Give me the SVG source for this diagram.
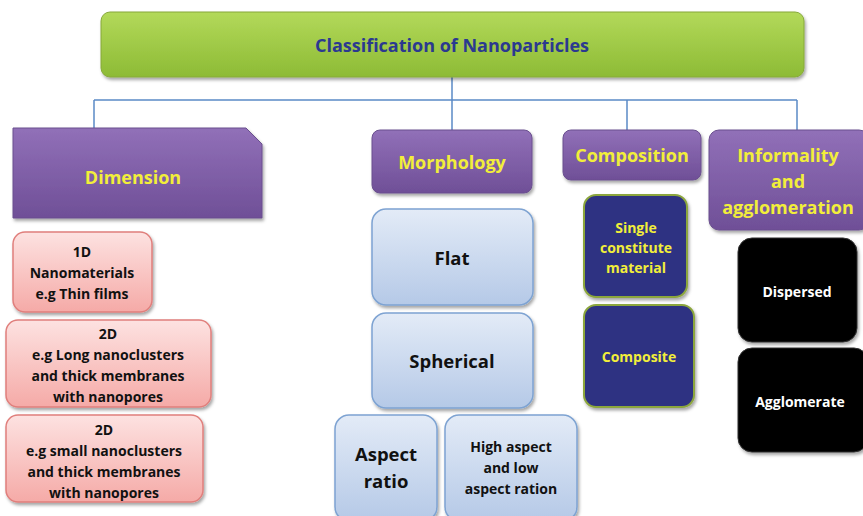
<svg xmlns="http://www.w3.org/2000/svg" width="863" height="516" viewBox="0 0 863 516">
  <style>
    text { font-family: "Open Sans", Lato, "Liberation Sans", sans-serif; font-weight: bold; text-anchor: middle; dominant-baseline: central; }
    .title { font-size: 18px; fill: #2b3990; }
    .head { font-size: 18px; fill: #f2ee3a; }
    .small { font-size: 14px; fill: #111; }
    .mid { font-size: 18.5px; fill: #111; }
    .navyt { font-size: 14px; fill: #f2ee3a; }
    .blackt { font-size: 14px; fill: #fff; }
    .conn { stroke: #5b8ac6; stroke-width: 1.5; fill: none; }
    .purple { fill: url(#gPurple); stroke: #6a4f8e; stroke-width: 1; filter: url(#shadow); }
    .pink { fill: url(#gPink); stroke: #e07f7c; stroke-width: 1.5; filter: url(#shadow); }
    .blue { fill: url(#gBlue); stroke: #7ea3d2; stroke-width: 1.5; filter: url(#shadow); }
    .navy { fill: #2e3382; stroke: #8ca63e; stroke-width: 2; filter: url(#shadow); }
    .black { fill: #000; stroke: #333; stroke-width: 1; filter: url(#shadow); }
  </style>
  <defs>
    <linearGradient id="gGreen" x1="0" y1="0" x2="0" y2="1">
      <stop offset="0" stop-color="#b3d95a"/>
      <stop offset="1" stop-color="#8dbb35"/>
    </linearGradient>
    <linearGradient id="gPurple" x1="0" y1="0" x2="0" y2="1">
      <stop offset="0" stop-color="#9170b8"/>
      <stop offset="1" stop-color="#6f4f97"/>
    </linearGradient>
    <linearGradient id="gPink" x1="0" y1="0" x2="0" y2="1">
      <stop offset="0" stop-color="#fde2e1"/>
      <stop offset="1" stop-color="#f5aaa7"/>
    </linearGradient>
    <linearGradient id="gBlue" x1="0" y1="0" x2="0" y2="1">
      <stop offset="0" stop-color="#e3ebf7"/>
      <stop offset="1" stop-color="#b5c9e7"/>
    </linearGradient>
    <filter id="shadow" x="-10%" y="-10%" width="125%" height="130%">
      <feDropShadow dx="1.5" dy="2.5" stdDeviation="1.8" flood-color="#000" flood-opacity="0.35"/>
    </filter>
  </defs>

  <!-- tree connectors -->
  <g id="connectors">
    <path class="conn" d="M452,77 V100 M94,100 H797 M94,100 V128 M452,100 V130 M627,100 V130 M797,100 V130"/>
  </g>

  <!-- root -->
  <g id="root">
    <rect x="101" y="12" width="703" height="65" rx="9" fill="url(#gGreen)" stroke="#86a83a" stroke-width="1" filter="url(#shadow)"/>
    <text class="title" x="452" y="45">Classification of Nanoparticles</text>
  </g>

  <!-- categories -->
  <g id="dimension">
    <path class="purple" d="M13,128 H246 L262,144 V218 H13 Z"/>
    <text class="head" x="133" y="177">Dimension</text>
  </g>
  <g id="morphology">
    <rect class="purple" x="372" y="130" width="160" height="63" rx="8"/>
    <text class="head" x="452" y="162">Morphology</text>
  </g>
  <g id="composition">
    <rect class="purple" x="563" y="130" width="138" height="50" rx="8"/>
    <text class="head" x="632" y="155">Composition</text>
  </g>
  <g id="informality">
    <rect class="purple" x="709" y="130" width="160" height="100" rx="10"/>
    <text class="head" x="788" y="155">Informality</text>
    <text class="head" x="788" y="181">and</text>
    <text class="head" x="788" y="207">agglomeration</text>
  </g>

  <!-- dimension leaves -->
  <g id="dim-1d">
    <rect class="pink" x="13" y="232" width="139" height="80" rx="12"/>
    <text class="small" x="82" y="251">1D</text>
    <text class="small" x="82" y="272">Nanomaterials</text>
    <text class="small" x="82" y="293">e.g Thin films</text>
  </g>
  <g id="dim-2d-long">
    <rect class="pink" x="6" y="320" width="205" height="87" rx="12"/>
    <text class="small" x="108" y="333">2D</text>
    <text class="small" x="108" y="354">e.g Long nanoclusters</text>
    <text class="small" x="108" y="375">and thick membranes</text>
    <text class="small" x="108" y="396">with nanopores</text>
  </g>
  <g id="dim-2d-small">
    <rect class="pink" x="6" y="415" width="197" height="87" rx="12"/>
    <text class="small" x="104" y="429">2D</text>
    <text class="small" x="104" y="450">e.g small nanoclusters</text>
    <text class="small" x="104" y="471">and thick membranes</text>
    <text class="small" x="104" y="492">with nanopores</text>
  </g>

  <!-- morphology leaves -->
  <g id="morph-flat">
    <rect class="blue" x="372" y="209" width="161" height="96" rx="14"/>
    <text class="mid" x="452" y="257">Flat</text>
  </g>
  <g id="morph-spherical">
    <rect class="blue" x="372" y="313" width="161" height="95" rx="14"/>
    <text class="mid" x="452" y="360">Spherical</text>
  </g>
  <g id="morph-aspect">
    <rect class="blue" x="335" y="415" width="102" height="106" rx="14"/>
    <text class="mid" x="386" y="453">Aspect</text>
    <text class="mid" x="386" y="480">ratio</text>
  </g>
  <g id="morph-high-low">
    <rect class="blue" x="445" y="415" width="132" height="106" rx="14"/>
    <text class="small" x="511" y="446">High aspect</text>
    <text class="small" x="511" y="467">and low</text>
    <text class="small" x="511" y="488">aspect ration</text>
  </g>

  <!-- composition leaves -->
  <g id="comp-single">
    <rect class="navy" x="584" y="195" width="103" height="102" rx="12"/>
    <text class="navyt" x="636" y="227">Single</text>
    <text class="navyt" x="636" y="247">constitute</text>
    <text class="navyt" x="636" y="267">material</text>
  </g>
  <g id="comp-composite">
    <rect class="navy" x="584" y="305" width="110" height="102" rx="12"/>
    <text class="navyt" x="639" y="356">Composite</text>
  </g>

  <!-- agglomeration leaves -->
  <g id="agg-dispersed">
    <rect class="black" x="738" y="238" width="119" height="104" rx="14"/>
    <text class="blackt" x="797" y="291">Dispersed</text>
  </g>
  <g id="agg-agglomerate">
    <rect class="black" x="738" y="348" width="130" height="104" rx="14"/>
    <text class="blackt" x="800" y="401">Agglomerate</text>
  </g>
</svg>
